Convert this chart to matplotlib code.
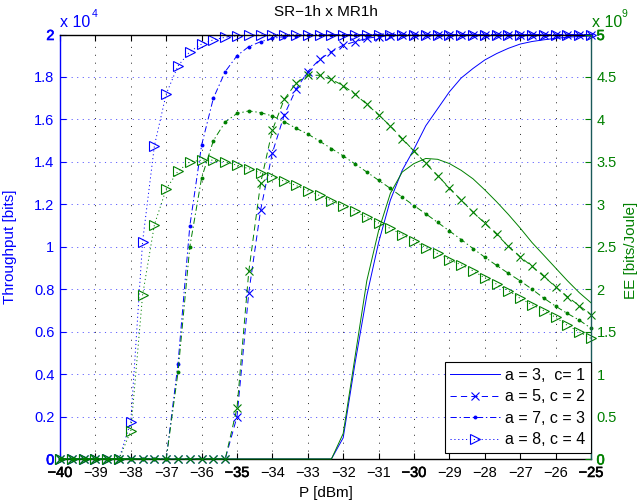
import matplotlib
matplotlib.use('Agg')
import matplotlib.pyplot as plt
import matplotlib.patheffects as pe

plt.rcParams['font.family'] = ['Liberation Sans', 'DejaVu Sans']
plt.rcParams['lines.scale_dashes'] = False
plt.rcParams['font.size'] = 10.5

# ---------------- data ----------------
P_dBm = [-40.0, -39.667, -39.333, -39.0, -38.667, -38.333, -38.0, -37.667, -37.333, -37.0,
         -36.667, -36.333, -36.0, -35.667, -35.333, -35.0, -34.667, -34.333, -34.0, -33.667,
         -33.333, -33.0, -32.667, -32.333, -32.0, -31.667, -31.333, -31.0, -30.667, -30.333,
         -30.0, -29.667, -29.333, -29.0, -28.667, -28.333, -28.0, -27.667, -27.333, -27.0,
         -26.667, -26.333, -26.0, -25.667, -25.333, -25.0]

# Throughput, units of 1e4 bits
thr_a3 = [0]*24 + [0.10, 0.45, 0.77, 1.02, 1.22, 1.36, 1.46, 1.57, 1.65, 1.73, 1.795,
                   1.84, 1.88, 1.91, 1.935, 1.955, 1.967, 1.975, 1.982, 1.987, 1.991, 1.993]
thr_a5 = [0]*15 + [0.199, 0.784, 1.173, 1.443, 1.62, 1.742, 1.825, 1.883, 1.919, 1.950,
                   1.966, 1.982, 1.99, 1.994, 1.996, 1.997, 1.998, 1.998, 1.999,
                   1.999, 1.999, 1.999, 2.0, 2.0, 2.0, 2.0, 2.0, 2.0, 2.0, 2.0, 2.0]
thr_a7 = [0]*10 + [0.448, 1.098, 1.479, 1.70, 1.825, 1.90, 1.943, 1.966, 1.982, 1.99,
                   1.994, 1.996, 1.998, 1.999] + [2.0]*22
thr_a8 = [0]*6 + [0.176, 1.024, 1.476, 1.72, 1.852, 1.919, 1.955, 1.975, 1.987, 1.993,
                  1.996, 1.998, 1.999] + [2.0]*27

# Energy efficiency, units of 1e9 bits/Joule
ee_a3 = [0]*24 + [0.3, 1.2, 2.1, 2.69, 3.13, 3.38, 3.48, 3.54, 3.53, 3.48, 3.40, 3.30,
                  3.17, 3.03, 2.88, 2.72, 2.55, 2.40, 2.25, 2.10, 1.96, 1.84]
ee_a5 = [0]*15 + [0.60, 2.21, 3.25, 3.875, 4.236, 4.426, 4.52, 4.52, 4.471, 4.398, 4.298,
                  4.178, 4.053, 3.922, 3.775, 3.627, 3.482, 3.338, 3.193, 3.049, 2.908,
                  2.777, 2.646, 2.506, 2.383, 2.268, 2.151, 2.027, 1.912, 1.806, 1.70]
ee_a7 = [0]*10 + [1.02, 2.50, 3.31, 3.75, 3.97, 4.07, 4.10, 4.08, 4.04, 3.973, 3.896,
                  3.828, 3.743, 3.657, 3.570, 3.476, 3.380, 3.283, 3.187, 3.085, 2.984,
                  2.888, 2.787, 2.686, 2.585, 2.479, 2.377, 2.280, 2.187, 2.098, 2.000,
                  1.895, 1.800, 1.714, 1.636, 1.54]
ee_a8 = [0]*6 + [0.33, 1.93, 2.76, 3.18, 3.39, 3.50, 3.52, 3.52, 3.50, 3.46, 3.42, 3.37,
                 3.325, 3.272, 3.222, 3.158, 3.104, 3.042, 2.981, 2.918, 2.846, 2.780,
                 2.716, 2.642, 2.570, 2.490, 2.421, 2.349, 2.286, 2.217, 2.133, 2.059,
                 1.984, 1.892, 1.817, 1.748, 1.669, 1.574, 1.497, 1.42]

labels = ['a = 3,  c= 1', 'a = 5, c = 2', 'a = 7, c = 3', 'a = 8, c = 4']
x_ticks = [-40, -39, -38, -37, -36, -35, -34, -33, -32, -31, -30, -29, -28, -27, -26, -25]
left_ticks = [0, 0.2, 0.4, 0.6, 0.8, 1, 1.2, 1.4, 1.6, 1.8, 2]
left_ticklabels = ['0', '0.2', '0.4', '0.6', '0.8', '1', '1.2', '1.4', '1.6', '1.8', '2']
right_ticks = [0, 0.5, 1, 1.5, 2, 2.5, 3, 3.5, 4, 4.5, 5]
right_ticklabels = ['0', '0.5', '1', '1.5', '2', '2.5', '3', '3.5', '4', '4.5', '5']

# ---------------- figure ----------------
W, H = 639, 504
fig = plt.figure(figsize=(W/100, H/100), dpi=100)
L, R, T, B = 60, 591, 34.5, 459
ax1 = fig.add_axes([L/W, 1-B/H, (R-L)/W, (B-T)/H])
ax2 = ax1.twinx()

BLUE = (0, 0, 1)
GREEN = (0, 0.5, 0)

lw = 0.7
dash = (0, (4.5, 3))
dashdot = (0, (4.5, 2, 1, 2))
dotted = (0, (0.8, 2))

series = [
    (thr_a3, ee_a3, '-', None, {}),
    (thr_a5, ee_a5, dash, 'x', dict(markersize=5.3, markeredgewidth=0.8)),
    (thr_a7, ee_a7, dashdot, 'o', dict(markersize=2.8, markeredgewidth=0)),
    (thr_a8, ee_a8, dotted, '>', dict(markersize=6.5, markeredgewidth=0.8, markerfacecolor='none')),
]

handles = []
for (thr, ee, ls, mk, mkw), lab in zip(series, labels):
    h, = ax1.plot(P_dBm, thr, color=BLUE, linestyle=ls, linewidth=lw, marker=mk,
                  clip_on=False, label=lab, **mkw)
    handles.append(h)
    ax2.plot(P_dBm, ee, color=GREEN, linestyle=ls, linewidth=lw, marker=mk,
             clip_on=False, **mkw)

ax1.set_xlim(-40, -25)
ax1.set_ylim(0, 2)
ax2.set_ylim(0, 5)

ax1.set_xticks(x_ticks)
ax1.set_xticklabels([f'\u2212{abs(v)}' for v in x_ticks])
ax1.set_yticks(left_ticks)
ax1.set_yticklabels(left_ticklabels)
ax2.set_yticks(right_ticks)
ax2.set_yticklabels(right_ticklabels)

ax1.tick_params(axis='x', direction='in', length=4, width=0.8, top=True, pad=5,
                labelsize=10.5, colors='black')
ax1.tick_params(axis='y', direction='in', length=4, width=0.8, right=False, pad=4,
                labelsize=10.5, colors=BLUE)
ax2.tick_params(axis='y', direction='in', length=4, width=0.8, pad=4,
                labelsize=10.5, colors=GREEN)

# grid
ax1.grid(False)
for v in x_ticks[1:-1]:
    ax1.axvline(v, color='black', linewidth=0.6, linestyle=(0, (0.7, 5)), zorder=0.5)
for v in left_ticks[1:-1]:
    ax1.axhline(v, color=(0.35, 0.35, 1.0), linewidth=0.7, linestyle=(0, (0.8, 3.2)), zorder=0.5)

# spines
for sp in ax1.spines.values():
    sp.set_linewidth(1.0)
ax1.spines['left'].set_color(BLUE)
ax1.spines['right'].set_visible(False)
for k in ['left', 'top', 'bottom']:
    ax2.spines[k].set_visible(False)
ax2.spines['right'].set_color((0.1, 0.35, 0.35))
ax2.spines['right'].set_linewidth(1.0)

# emphasised (overdrawn) tick labels as in the reference
for t in ax1.get_xticklabels():
    if t.get_text() in ('\u221240', '\u221235', '\u221230', '\u221225'):
        t.set_path_effects([pe.withStroke(linewidth=0.45, foreground='black')])
for t in ax1.get_yticklabels():
    if t.get_text() in ('0', '2'):
        t.set_path_effects([pe.withStroke(linewidth=0.45, foreground=BLUE)])
for t in ax2.get_yticklabels():
    if t.get_text() in ('0', '5'):
        t.set_path_effects([pe.withStroke(linewidth=0.45, foreground=GREEN)])

# legend (drawn on top axes)
leg = ax2.legend(handles, labels, loc='lower right', bbox_to_anchor=(1.0, 6/(B-T)),
                 borderaxespad=0, fontsize=11.5, handlelength=3.1, handletextpad=0.32,
                 labelspacing=0.4, borderpad=0.36, numpoints=1, fancybox=False,
                 framealpha=1, edgecolor='black')
leg.get_frame().set_linewidth(0.8)

# texts
fig.text(325.5/W, 1-12/H, 'SR\u22121h x MR1h', ha='center', va='center', fontsize=11)
fig.text(325.5/W, 1-493/H, 'P [dBm]', ha='center', va='center', fontsize=11)
fig.text(10/W, 1-247/H, 'Throughput [bits]', ha='center', va='center', rotation=90,
         color=BLUE, fontsize=11)
fig.text(631/W, 1-250/H, 'EE [bits/Joule]', ha='center', va='center', rotation=90,
         color=GREEN, fontsize=11)
fig.text(60/W, 1-27/H, 'x 10', ha='left', va='baseline', color=BLUE, fontsize=11.5)
fig.text(91.5/W, 1-17/H, '4', ha='left', va='baseline', color=BLUE, fontsize=7.5)
fig.text(592/W, 1-27/H, 'x 10', ha='left', va='baseline', color=GREEN, fontsize=11.5)
fig.text(621.5/W, 1-17/H, '9', ha='left', va='baseline', color=GREEN, fontsize=7.5)

fig.savefig('out.png', dpi=100)
